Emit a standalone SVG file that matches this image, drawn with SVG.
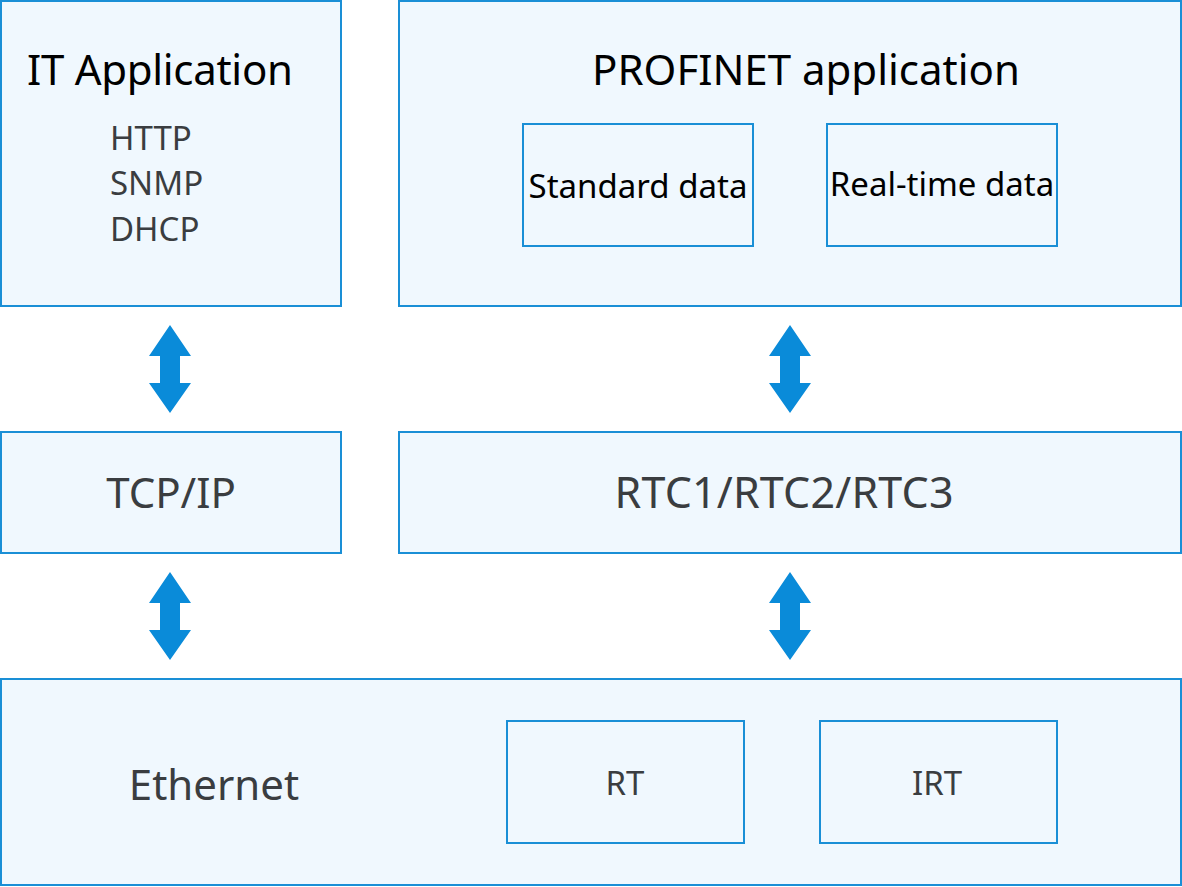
<svg xmlns="http://www.w3.org/2000/svg" width="1182" height="887" viewBox="0 0 1182 887">
<style>
.box{fill:#f0f8fe;stroke:#1a8fd6;stroke-width:2}
.t{font-family:"Noto Sans","Liberation Sans",sans-serif}
.lg{font-size:42px}
.sm{font-size:33px}
.dk{fill:#000}
.gr{fill:#3a3d40}
.arr{fill:#0a8bd9}
</style>
<defs>
<path id="dblarrow" d="M0,0 L21,31 L10,31 L10,58 L21,58 L0,88 L-21,58 L-10,58 L-10,31 L-21,31 Z"/>
</defs>
<rect width="1182" height="887" fill="#fff"/>
<g id="it-app">
<rect class="box" x="1" y="1" width="340" height="305"/>
<text class="t lg dk" x="27" y="85" textLength="266">IT Application</text>
<text class="t sm gr" x="110" y="150">HTTP</text>
<text class="t sm gr" x="110" y="195">SNMP</text>
<text class="t sm gr" x="110" y="241">DHCP</text>
</g>
<g id="profinet-app">
<rect class="box" x="399" y="1" width="782" height="305"/>
<text class="t lg dk" x="806" y="85" text-anchor="middle">PROFINET application</text>
</g>
<g id="standard-data">
<rect class="box" x="523" y="124" width="230" height="122"/>
<text class="t sm dk" x="638" y="198" text-anchor="middle">Standard data</text>
</g>
<g id="realtime-data">
<rect class="box" x="827" y="124" width="230" height="122"/>
<text class="t sm dk" x="942" y="196" text-anchor="middle">Real-time data</text>
</g>
<g id="tcpip">
<rect class="box" x="1" y="432" width="340" height="121"/>
<text class="t lg gr" x="171" y="508" text-anchor="middle">TCP/IP</text>
</g>
<g id="rtc">
<rect class="box" x="399" y="432" width="782" height="121"/>
<text class="t gr" x="784" y="508" font-size="43" text-anchor="middle" textLength="339">RTC1/RTC2/RTC3</text>
</g>
<g id="ethernet">
<rect class="box" x="1" y="679" width="1180" height="206"/>
<text class="t lg gr" x="214" y="800" text-anchor="middle">Ethernet</text>
</g>
<g id="rt">
<rect class="box" x="507" y="721" width="237" height="122"/>
<text class="t sm gr" x="625" y="795" text-anchor="middle">RT</text>
</g>
<g id="irt">
<rect class="box" x="820" y="721" width="237" height="122"/>
<text class="t sm gr" x="937" y="795" text-anchor="middle">IRT</text>
</g>
<g id="connectors" class="arr">
<use href="#dblarrow" x="170" y="325"/>
<use href="#dblarrow" x="170" y="572"/>
<use href="#dblarrow" x="790" y="325"/>
<use href="#dblarrow" x="790" y="572"/>
</g>
</svg>
